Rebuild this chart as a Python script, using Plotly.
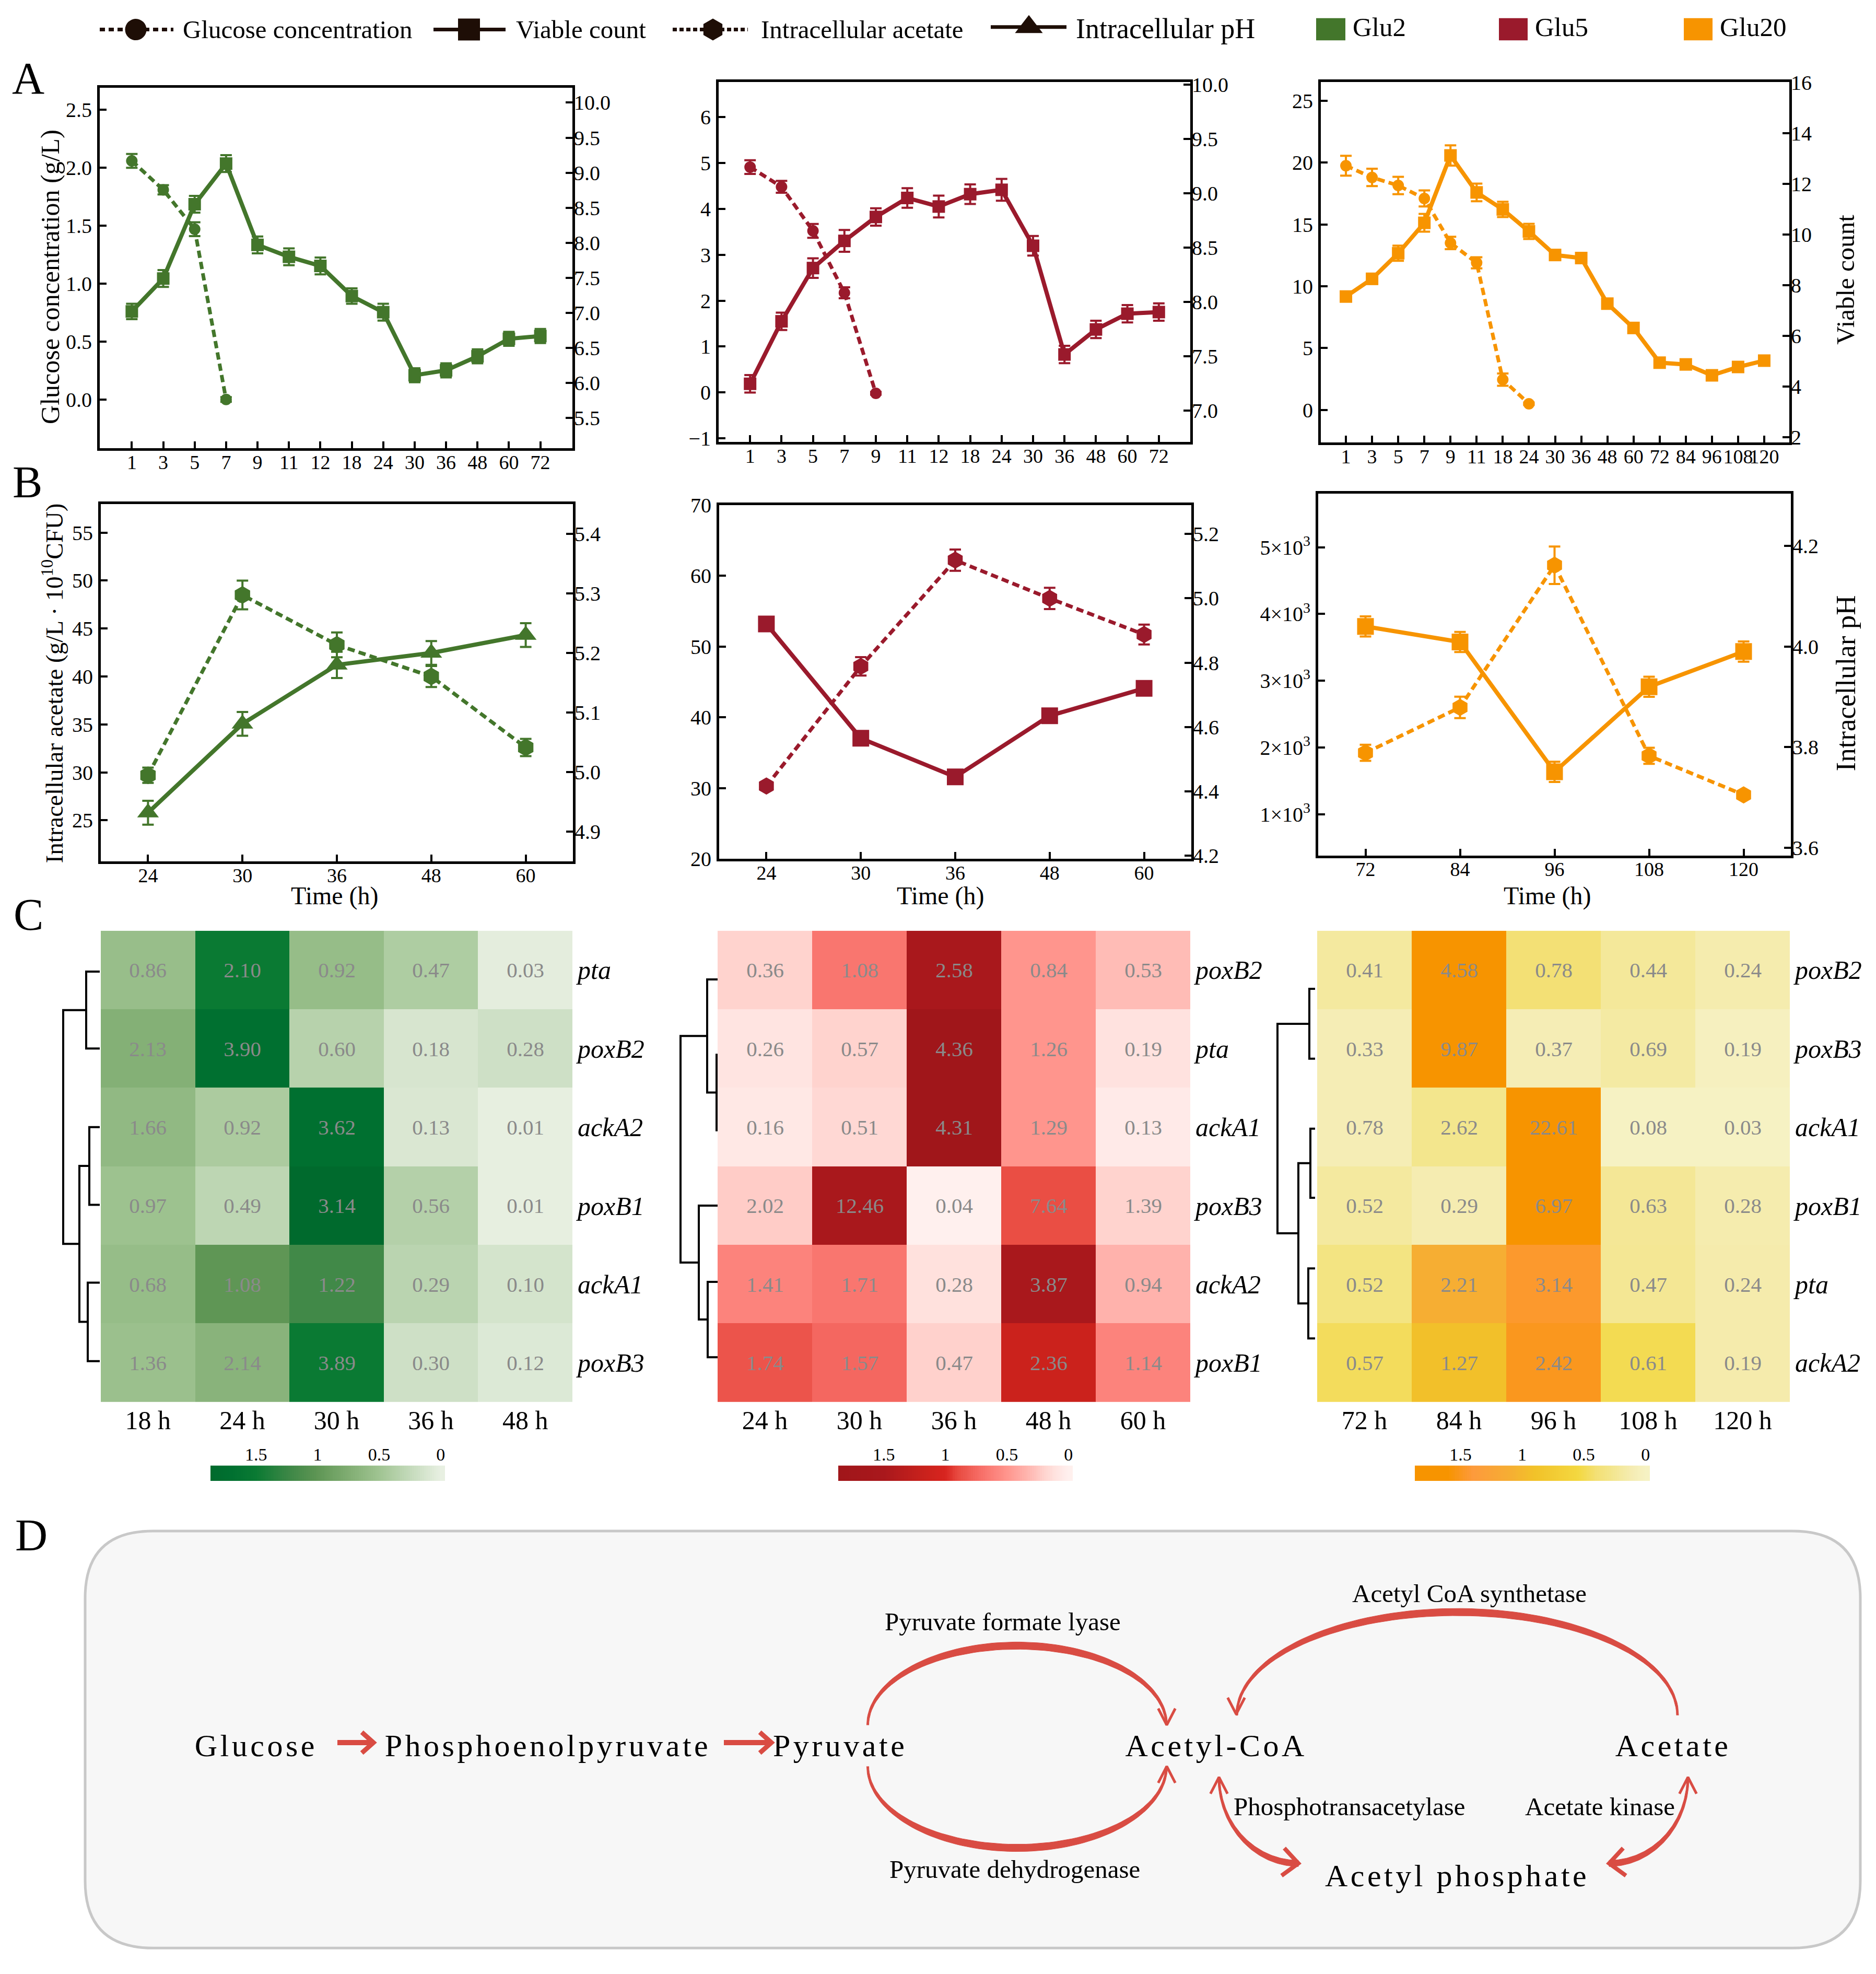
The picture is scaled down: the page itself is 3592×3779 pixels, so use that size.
import numpy as np
import plotly.graph_objects as go

W, H = 3592, 3779
FONT = "Liberation Serif"
GREEN, RED, ORANGE = "#43762b", "#9a1a2c", "#f79400"
DARK = "#1e0e06"
ARROW = "#d94c43"

# ---------------- DATA ----------------
hours_a12 = ["1", "3", "5", "7", "9", "11", "12", "18", "24", "30", "36", "48", "60", "72"]
hours_a3 = ["1", "3", "5", "7", "9", "11", "18", "24", "30", "36", "48", "60", "72", "84", "96", "108", "120"]

glucose_glu2 = [2.06, 1.81, 1.47, 0.0]
glucose_glu2_err = [0.06, 0.04, 0.06, 0.02]
viable_glu2 = [7.02, 7.49, 8.55, 9.13, 7.97, 7.80, 7.67, 7.24, 7.01, 6.11, 6.18, 6.38, 6.63, 6.67]
viable_glu2_err = [0.11, 0.12, 0.12, 0.12, 0.12, 0.12, 0.12, 0.11, 0.12, 0.10, 0.10, 0.10, 0.10, 0.10]

glucose_glu5 = [4.91, 4.48, 3.52, 2.17, -0.02]
glucose_glu5_err = [0.15, 0.13, 0.15, 0.12, 0.03]
viable_glu5 = [7.245, 7.82, 8.31, 8.56, 8.78, 8.955, 8.876, 8.99, 9.03, 8.515, 7.515, 7.745, 7.89, 7.905]
viable_glu5_err = [0.08, 0.08, 0.09, 0.10, 0.08, 0.09, 0.10, 0.09, 0.10, 0.09, 0.08, 0.08, 0.08, 0.08]

glucose_glu20 = [19.75, 18.8, 18.15, 17.1, 13.5, 11.9, 2.45, 0.5]
glucose_glu20_err = [0.8, 0.7, 0.7, 0.65, 0.5, 0.45, 0.5, 0.1]
viable_glu20 = [7.56, 8.26, 9.27, 10.47, 13.13, 11.67, 11.0, 10.13, 9.2, 9.08, 7.28, 6.32, 4.95, 4.88, 4.45, 4.78, 5.03]
viable_glu20_err = [0.15, 0.2, 0.3, 0.35, 0.4, 0.35, 0.3, 0.3, 0.2, 0.2, 0.15, 0.15, 0.1, 0.1, 0.1, 0.1, 0.1]

hours_b1 = ["24", "30", "36", "48", "60"]
acetate_glu2 = [29.7, 48.5, 43.3, 40.0, 32.6]
acetate_glu2_err = [0.8, 1.5, 1.3, 1.1, 0.9]
ph_glu2 = [4.932, 5.081, 5.18, 5.20, 5.23]
ph_glu2_err = [0.02, 0.02, 0.022, 0.02, 0.02]

hours_b2 = ["24", "30", "36", "48", "60"]
acetate_glu5 = [30.3, 47.2, 62.2, 56.8, 51.7]
acetate_glu5_err = [0.6, 1.3, 1.5, 1.5, 1.4]
ph_glu5 = [4.92, 4.565, 4.445, 4.635, 4.72]
ph_glu5_err = [0.015, 0.02, 0.02, 0.015, 0.015]

hours_b3 = ["72", "84", "96", "108", "120"]
acetate_glu20 = [1920, 2600, 4730, 1875, 1290]
acetate_glu20_err = [120, 160, 280, 120, 60]
ph_glu20 = [4.04, 4.009, 3.751, 3.92, 3.99]
ph_glu20_err = [0.02, 0.02, 0.02, 0.02, 0.02]

heat1_cols = ["18 h", "24 h", "30 h", "36 h", "48 h"]
heat1_rows = ["pta", "poxB2", "ackA2", "poxB1", "ackA1", "poxB3"]
heat1_vals = [["0.86", "2.10", "0.92", "0.47", "0.03"],
              ["2.13", "3.90", "0.60", "0.18", "0.28"],
              ["1.66", "0.92", "3.62", "0.13", "0.01"],
              ["0.97", "0.49", "3.14", "0.56", "0.01"],
              ["0.68", "1.08", "1.22", "0.29", "0.10"],
              ["1.36", "2.14", "3.89", "0.30", "0.12"]]
heat1_level = [[.56, 1.5, .58, .40, .03],
               [.72, 1.7, .34, .12, .18],
               [.62, .42, 1.7, .10, .01],
               [.52, .30, 1.87, .36, .01],
               [.58, 1.0, 1.2, .32, .14],
               [.54, .68, 1.5, .18, .08]]
heat1_tree = [(0, 1, 28), (2, 3, 22), (4, 5, 25), (7, 8, 41), (6, 9, 72)]
heat1_leaf_y = [0.02, 1.0, 2.0, 2.99, 3.98, 4.98]

heat2_cols = ["24 h", "30 h", "36 h", "48 h", "60 h"]
heat2_rows = ["poxB2", "pta", "ackA1", "poxB3", "ackA2", "poxB1"]
heat2_vals = [["0.36", "1.08", "2.58", "0.84", "0.53"],
              ["0.26", "0.57", "4.36", "1.26", "0.19"],
              ["0.16", "0.51", "4.31", "1.29", "0.13"],
              ["2.02", "12.46", "0.04", "7.64", "1.39"],
              ["1.41", "1.71", "0.28", "3.87", "0.94"],
              ["1.74", "1.57", "0.47", "2.36", "1.14"]]
heat2_level = [[.20, .67, 1.5, .50, .30],
               [.10, .20, 1.87, .50, .11],
               [.07, .17, 1.87, .50, .05],
               [.23, 1.5, 0, .88, .20],
               [.60, .67, .12, 1.5, .35],
               [.85, .75, .21, 1.15, .60]]
heat2_tree = [(1, 2, 2), (0, 6, 20), (4, 5, 19), (3, 8, 36), (7, 9, 71)]
heat2_leaf_y = [0.12, 1.08, 2.04, 3.0, 3.97, 4.93]

heat3_cols = ["72 h", "84 h", "96 h", "108 h", "120 h"]
heat3_rows = ["poxB2", "poxB3", "ackA1", "poxB1", "pta", "ackA2"]
heat3_vals = [["0.41", "4.58", "0.78", "0.44", "0.24"],
              ["0.33", "9.87", "0.37", "0.69", "0.19"],
              ["0.78", "2.62", "22.61", "0.08", "0.03"],
              ["0.52", "0.29", "6.97", "0.63", "0.28"],
              ["0.52", "2.21", "3.14", "0.47", "0.24"],
              ["0.57", "1.27", "2.42", "0.61", "0.19"]]
heat3_level = [[.20, 1.87, .40, .22, .13],
               [.10, 1.87, .10, .18, .03],
               [.10, .28, 1.87, 0, 0],
               [.20, .12, 1.87, .24, .13],
               [.33, 1.1, 1.45, .25, .14],
               [.47, .92, 1.5, .50, .14]]
heat3_tree = [(0, 1, 15), (2, 3, 13), (4, 5, 17), (7, 8, 36), (6, 9, 76)]
heat3_leaf_y = [0.24, 1.13, 2.02, 2.9, 3.8, 4.69]

legend_tick_vals = [1.5, 1, 0.5, 0]
legend_tick_text = ["1.5", "1", "0.5", "0"]

# ---------------- STYLES ----------------
ramp_max = 1.87
def scale(stops):
    return [[s / ramp_max, c] for s, c in stops]

green_scale = scale([(0, "#e8f0e2"), (.25, "#c4dabb"), (.5, "#a0c492"), (.75, "#80ad72"), (1, "#5f9655"),
                     (1.25, "#3a8645"), (1.5, "#0a7a33"), (1.7, "#007030"), (1.87, "#006a2d")])
red_scale = scale([(0, "#fff0ee"), (.1, "#ffe4e1"), (.2, "#ffd3ce"), (.3, "#ffbcb6"), (.5, "#ff958d"),
                   (.7, "#f8716a"), (.9, "#e84a40"), (1.0, "#d8241f"), (1.15, "#cb221c"), (1.5, "#a9181c"), (1.87, "#a0161a")])
orange_scale = scale([(0, "#f6f2c3"), (.1, "#f5edb5"), (.2, "#f4e99f"), (.3, "#f3e588"), (.4, "#f3e075"),
                      (.55, "#f3d840"), (.9, "#f2c229"), (1.1, "#f6ae33"), (1.4, "#fd9a3c"), (1.6, "#f79400"), (1.87, "#f79400")])

def xd(a, b):
    return [a / W, b / W]
def yd(top, bot):
    return [1 - bot / H, 1 - top / H]

fig = go.Figure()
layout = {}
annotations = []
shapes = []
axis_no = [0]

def next_axes():
    axis_no[0] += 1
    return axis_no[0]

def key(prefix, n):
    return f"{prefix}axis{'' if n == 1 else n}"
def ref(prefix, n):
    return f"{prefix}{'' if n == 1 else n}"

PX = dict(xaxis="x99", yaxis="y99", mode="lines", hoverinfo="skip", showlegend=False)

def text_at(x, y, s, size, angle=0, anchor="center", **kw):
    annotations.append(dict(x=x, y=y, xref="x99", yref="y99", text=s, showarrow=False, xanchor=anchor,
                            yanchor="middle", textangle=angle, font=dict(family=FONT, size=size, color="black"), **kw))

def line_panel(frame, cats, pad, prim, sec, r1, t1, r2, t2, color, sym1, sym2, s1, s2, tt1=None):
    left, right, top, bot = frame
    n = next_axes(); m = next_axes()
    layout[key("x", n)] = dict(domain=xd(left, right), anchor=ref("y", n), type="category", categoryorder="array",
                               categoryarray=cats, range=[-pad, len(cats) - 1 + pad], showline=True, mirror=True,
                               linecolor="black", linewidth=5, ticks="inside", ticklen=13, tickwidth=4, tickcolor="black",
                               showgrid=False, zeroline=False, tickangle=0, tickmode="array", tickvals=cats, ticktext=cats,
                               tickfont=dict(family=FONT, size=38, color="black"), ticklabelstandoff=-11)
    layout[key("y", n)] = dict(domain=yd(top, bot), anchor=ref("x", n), range=r1, tickvals=t1,
                               ticktext=tt1 if tt1 else None, showline=True, mirror=True, linecolor="black", linewidth=5,
                               ticks="inside", ticklen=13, tickwidth=4, tickcolor="black", showgrid=False, zeroline=False,
                               tickfont=dict(family=FONT, size=40, color="black"), ticklabelstandoff=2)
    layout[key("y", m)] = dict(overlaying=ref("y", n), side="right", anchor=ref("x", n), range=r2, tickvals=t2,
                               showline=False, ticks="inside", ticklen=13, tickwidth=4, tickcolor="black", showgrid=False,
                               zeroline=False, tickfont=dict(family=FONT, size=40, color="black"), ticklabelstandoff=2,
                               tickformat=".1f" if max(t2) < 12 else "d")
    err = dict(type="data", thickness=4, width=11, color=color)
    fig.add_trace(go.Scatter(x=cats[:len(prim[0])], y=prim[0], error_y=dict(array=prim[1], **err), xaxis=ref("x", n), yaxis=ref("y", n),
                             mode="lines+markers", line=dict(color=color, width=7, dash="14px,8px"),
                             marker=dict(symbol=sym1, size=s1, color=color), showlegend=False))
    fig.add_trace(go.Scatter(x=cats[:len(sec[0])], y=sec[0], error_y=dict(array=sec[1], **err), xaxis=ref("x", n), yaxis=ref("y", m),
                             mode="lines+markers", line=dict(color=color, width=8),
                             marker=dict(symbol=sym2, size=s2, color=color), showlegend=False))

def heat_panel(frame, cols, rows, vals, level, cs, tree, leaf_y, bar, leaf_gap):
    left, right, top, bot = frame
    n = next_axes()
    layout[key("x", n)] = dict(domain=xd(left, right), anchor=ref("y", n), showline=False, ticks="", showgrid=False, zeroline=False,
                               tickfont=dict(family=FONT, size=50, color="black"), ticklabelstandoff=1)
    layout[key("y", n)] = dict(domain=yd(top, bot), anchor=ref("x", n), side="right", range=[5.5, -0.5], showline=False, ticks="",
                               showgrid=False, zeroline=False, tickmode="array", tickvals=list(range(6)),
                               ticktext=[f"<i>{r}</i>" for r in rows], tickfont=dict(family=FONT, size=50, color="black"),
                               ticklabelstandoff=9)
    fig.add_trace(go.Heatmap(z=level, x=cols, y=list(range(6)), text=vals, texttemplate="%{text}", colorscale=cs, zmin=0, zmax=ramp_max,
                             showscale=False, xgap=0, ygap=0, textfont=dict(family=FONT, size=41, color="#8a8a8a"),
                             hoverinfo="skip", xaxis=ref("x", n), yaxis=ref("y", n)))
    # dendrogram
    d = next_axes()
    layout[key("x", d)] = dict(domain=xd(left - 100, left), anchor=ref("y", d), range=[100, 0], visible=False)
    layout[key("y", d)] = dict(domain=yd(top, bot), anchor=ref("x", d), range=[5.5, -0.5], visible=False)
    ys = list(leaf_y); hs = [leaf_gap] * 6
    dx, dy = [], []
    for a, b, h in tree:
        dx += [hs[a], h, h, hs[b], None]
        dy += [ys[a], ys[a], ys[b], ys[b], None]
        ys.append((ys[a] + ys[b]) / 2); hs.append(h)
    fig.add_trace(go.Scatter(x=dx, y=dy, mode="lines", line=dict(color="black", width=4), hoverinfo="skip", showlegend=False,
                             xaxis=ref("x", d), yaxis=ref("y", d)))
    # colour key
    k = next_axes()
    b_left, b_right, b_top, b_bot = bar
    levels = np.linspace(ramp_max, -0.03, 120)
    layout[key("x", k)] = dict(domain=xd(b_left, b_right), anchor=ref("y", k), range=[ramp_max, -0.035], side="top",
                               tickmode="array", tickvals=legend_tick_vals, ticktext=legend_tick_text, ticks="", showgrid=False,
                               showline=False, zeroline=False, tickfont=dict(family=FONT, size=34, color="black"), ticklabelstandoff=2)
    layout[key("y", k)] = dict(domain=yd(b_top, b_bot), anchor=ref("x", k), visible=False)
    fig.add_trace(go.Heatmap(z=[levels.tolist()], x=levels.tolist(), colorscale=cs, zmin=0, zmax=ramp_max, showscale=False,
                             hoverinfo="skip", xaxis=ref("x", k), yaxis=ref("y", k)))

# ---------------- OVERLAY (legend, letters, pathway) ----------------
layout["xaxis99"] = dict(domain=[0, 1], range=[0, W], visible=False, fixedrange=True)
layout["yaxis99"] = dict(domain=[0, 1], range=[H, 0], visible=False, fixedrange=True)

def add_legend_key(x0, x1, xm, y, dash, symbol, size):
    fig.add_trace(go.Scatter(x=[x0, x1], y=[y, y], line=dict(color=DARK, width=7, dash=dash), **PX))
    fig.add_trace(go.Scatter(x=[xm], y=[y], xaxis="x99", yaxis="y99", mode="markers", hoverinfo="skip", showlegend=False,
                             marker=dict(symbol=symbol, size=size, color=DARK)))

LEG_Y = 35
add_legend_key(191, 332, 260, LEG_Y, "10px,7px", "circle", 41)
add_legend_key(830, 968, 898, LEG_Y, None, "square", 42)
add_legend_key(1288, 1432, 1365, LEG_Y, "8px,5px", "hexagon", 42)
add_legend_key(1897, 2042, 1970, LEG_Y - 5, None, "triangle-up", 46)
text_at(348, LEG_Y, "Glucose concentration", 49, anchor="left")
text_at(986, LEG_Y, "Viable count", 49, anchor="left")
text_at(1455, LEG_Y, "Intracellular acetate", 49, anchor="left")
text_at(2058, LEG_Y - 2, "Intracellular pH", 54, anchor="left")
for x0, x1, c, s in [(2520, 2576, GREEN, "Glu2"), (2870, 2925, RED, "Glu5"), (3224, 3279, ORANGE, "Glu20")]:
    shapes.append(dict(type="rect", xref="x99", yref="y99", x0=x0, x1=x1, y0=LEG_Y - 22, y1=LEG_Y + 21, fillcolor=c, line=dict(width=0)))
    text_at(x1 + 12, LEG_Y - 5, s, 51, anchor="left")

for x, y, s in [(54, 130, "A"), (52, 912, "B"), (54, 1750, "C"), (60, 2952, "D")]:
    text_at(x, y, s, 86)

# pathway box
bl, br, bt, bb, rad = 163, 3562, 2944, 3752, 130
shapes.append(dict(type="path", xref="x99", yref="y99", layer="below", fillcolor="#f7f7f7", line=dict(color="#c8c8c8", width=5),
                   path=f"M{bl+rad},{bt} L{br-rad},{bt} Q{br},{bt} {br},{bt+rad} L{br},{bb-rad} Q{br},{bb} {br-rad},{bb} "
                        f"L{bl+rad},{bb} Q{bl},{bb} {bl},{bb-rad} L{bl},{bt+rad} Q{bl},{bt} {bl+rad},{bt} Z"))

def crescent(cx, cy, rx, ry, t0, t1, dw, dh):
    t = np.linspace(t0, t1, 80)
    xo, yo = cx + (rx + dw) * np.cos(t), cy + (ry + dh) * np.sin(t)
    xi, yi = cx + (rx - dw) * np.cos(t[::-1]), cy + (ry - dh) * np.sin(t[::-1])
    fig.add_trace(go.Scatter(x=np.r_[xo, xi], y=np.r_[yo, yi], fill="toself", fillcolor=ARROW, line=dict(color=ARROW, width=1), **PX))

def head(x, y, dx, dy, length=36, half=27, width=5):
    a = np.arctan2(dy, dx)
    h = np.radians(half)
    xs = [x - length * np.cos(a - h), x, x - length * np.cos(a + h)]
    ys = [y - length * np.sin(a - h), y, y - length * np.sin(a + h)]
    fig.add_trace(go.Scatter(x=xs, y=ys, line=dict(color=ARROW, width=width, simplify=False), **PX))

# upper & lower arcs around Pyruvate -> Acetyl-CoA
DY = 14
crescent(1947.5, 3306 + DY, 286, 154, np.pi, 2 * np.pi, 2, 7)
head(2234, 3306 + DY, 0, 1)
crescent(1947.5, 3386 + DY, 286, 158, np.pi, 0, 2, 7)
head(2234, 3386 + DY, 0, -1)
crescent(2790, 3287 + DY, 422, 200, 0, -np.pi, 2, 7)
head(2367, 3285 + DY, 0, 1)
crescent(2486, 3407 + DY, 152, 167, np.pi, np.pi / 2, 2, 6)
head(2334, 3407 + DY, 0, -1)
head(2486, 3574 + DY, 1, 0.1, length=40, half=42, width=8)
crescent(3081, 3407 + DY, 151, 167, 0, np.pi / 2, 2, 6)
head(3232, 3407 + DY, 0, -1)
head(3081, 3574 + DY, -1, 0.1, length=40, half=42, width=8)
for x0, x1, y in [(646, 712, 3340 + DY), (1386, 1474, 3340 + DY)]:
    fig.add_trace(go.Scatter(x=[x0, x1], y=[y, y], line=dict(color=ARROW, width=10), **PX))
    head(x1 + 3, y, 1, 0, length=30, half=42, width=9)

for x, y, s in [(490, 3346, "Glucose"), (1049, 3346, "Phosphoenolpyruvate"), (1608, 3346, "Pyruvate"),
                (2328, 3346, "Acetyl-CoA"), (3203, 3346, "Acetate"), (2790, 3598, "Acetyl phosphate")]:
    text_at(x, y + DY, s, 60)
for x, y, s in [(1920, 3106, "Pyruvate formate lyase"), (2813, 3051, "Acetyl CoA synthetase"),
                (2584, 3464, "Phosphotransacetylase"), (3063, 3464, "Acetate kinase"), (1943, 3585, "Pyruvate dehydrogenase")]:
    text_at(x, y + DY, s, 49)

# axis titles
text_at(96, 514, "Glucose concentration (g/L)", 50, angle=-90)
text_at(101, 1302, "Intracellular acetate (g/L · 10<sup>10</sup>CFU)", 47, angle=-90)
text_at(3534, 520, "Viable count", 49, angle=-90)
text_at(3533, 1302, "Intracellular pH", 53, angle=-90)
for x in [641, 1801, 2963]:
    text_at(x, 1713, "Time (h)", 48)

# ---------------- PANELS ----------------
line_panel((191, 1096, 148, 846), hours_a12, 1.02, (glucose_glu2, glucose_glu2_err), (viable_glu2, viable_glu2_err),
           [-0.42, 2.69], [0, .5, 1, 1.5, 2, 2.5], [5.07, 10.21], [5.5, 6, 6.5, 7, 7.5, 8, 8.5, 9, 9.5, 10], GREEN, "circle", "square", 22, 24)
layout["yaxis"]["tickformat"] = ".1f"
line_panel((1376, 2279, 137, 834), hours_a12, 1.0, (glucose_glu5, glucose_glu5_err), (viable_glu5, viable_glu5_err),
           [-1.08, 6.76], [-1, 0, 1, 2, 3, 4, 5, 6], [6.71, 10.02], [7, 7.5, 8, 8.5, 9, 9.5, 10], RED, "circle", "square", 22, 24)
line_panel((2529, 3426, 137, 835), hours_a3, 0.96, (glucose_glu20, glucose_glu20_err), (viable_glu20, viable_glu20_err),
           [-2.63, 26.5], [0, 5, 10, 15, 20, 25], [1.8, 16.02], [2, 4, 6, 8, 10, 12, 14, 16], ORANGE, "circle", "square", 22, 24)
line_panel((193, 1097, 954, 1647), hours_b1, 0.5, (acetate_glu2, acetate_glu2_err), (ph_glu2, ph_glu2_err),
           [20.7, 58], [25, 30, 35, 40, 45, 50, 55], [4.85, 5.45], [4.9, 5.0, 5.1, 5.2, 5.3, 5.4], GREEN, "hexagon", "triangle-up", 34, 36)
line_panel((1377, 2281, 956, 1642), hours_b2, 0.5, (acetate_glu5, acetate_glu5_err), (ph_glu5, ph_glu5_err),
           [20, 70], [20, 30, 40, 50, 60, 70], [4.19, 5.29], [4.2, 4.4, 4.6, 4.8, 5.0, 5.2], RED, "hexagon", "square", 33, 32)
line_panel((2524, 3429, 934, 1635), hours_b3, 0.5, (acetate_glu20, acetate_glu20_err), (ph_glu20, ph_glu20_err),
           [383, 5804], [1000, 2000, 3000, 4000, 5000], [3.585, 4.304], [3.6, 3.8, 4.0, 4.2], ORANGE, "hexagon", "square", 33, 32,
           tt1=["1×10<sup>3</sup>", "2×10<sup>3</sup>", "3×10<sup>3</sup>", "4×10<sup>3</sup>", "5×10<sup>3</sup>"])

heat_panel((193, 1096, 1781, 2694), heat1_cols, heat1_rows, heat1_vals, heat1_level, green_scale, heat1_tree, heat1_leaf_y,
           (403, 852, 2817, 2847), 2)
heat_panel((1374, 2279, 1781, 2694), heat2_cols, heat2_rows, heat2_vals, heat2_level, red_scale, heat2_tree, heat2_leaf_y,
           (1605, 2054, 2817, 2847), 0)
heat_panel((2522, 3427, 1781, 2694), heat3_cols, heat3_rows, heat3_vals, heat3_level, orange_scale, heat3_tree, heat3_leaf_y,
           (2709, 3159, 2817, 2847), 4)

fig.update_layout(width=W, height=H, autosize=False, margin=dict(l=0, r=0, t=0, b=0), paper_bgcolor="white", plot_bgcolor="rgba(0,0,0,0)",
                  showlegend=False, annotations=annotations, shapes=shapes, font=dict(family=FONT, color="black"), **layout)

post = """
document.body.style.margin='0';
var big=['Glucose','Phosphoenolpyruvate','Pyruvate','Acetyl-CoA','Acetate','Acetyl phosphate'];
document.querySelectorAll('.annotation-text').forEach(function(t){
  if(big.indexOf(t.textContent)>=0){t.style.letterSpacing='5.5px';}
});
"""
fig.write_html("out.html", post_script=post, config={"displayModeBar": False})
